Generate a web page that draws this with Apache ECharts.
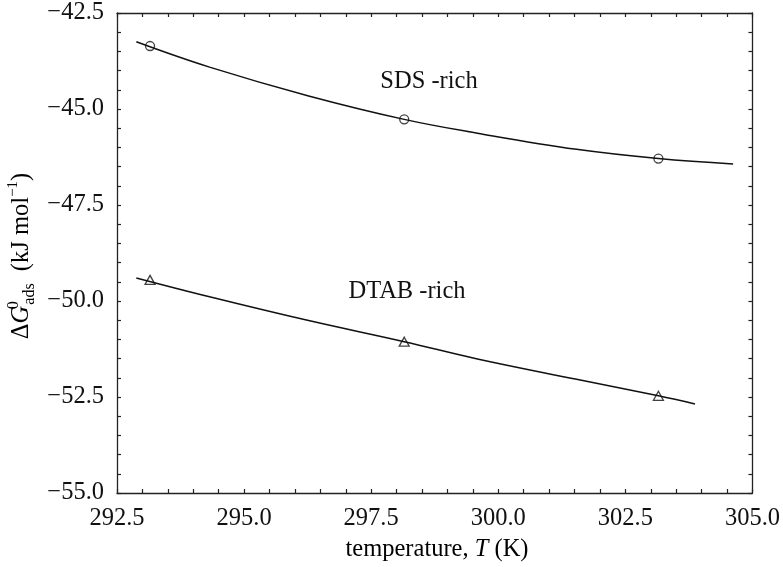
<!DOCTYPE html>
<html>
<head>
<meta charset="utf-8">
<script src="https://cdn.jsdelivr.net/npm/echarts@6/dist/echarts.min.js"></script>
<style>html,body{margin:0;padding:0;background:#fff;}#c{width:783px;height:567px;}</style>
</head>
<body>
<div id="c"></div>
<script>
// Measured points
var tempPts = [293.15, 298.15, 303.15];
var sdsG = [-43.36, -45.27, -46.29];
var dtabG = [-49.45, -51.06, -52.47];
// Fitted curves
var sdsFitT = [292.88, 294.32, 296.27, 298.15, 299.59, 301.54, 303.15, 304.62];
var sdsFitG = [-43.25, -43.91, -44.66, -45.27, -45.63, -46.05, -46.29, -46.43];
var dtabFitT = [292.88, 294.32, 296.27, 298.15, 299.59, 301.54, 303.15, 303.87];
var dtabFitG = [-49.40, -49.89, -50.51, -51.06, -51.51, -52.04, -52.47, -52.68];
var xTicks = [292.5, 295.0, 297.5, 300.0, 302.5, 305.0];
var yTicks = [-55.0, -52.5, -50.0, -47.5, -45.0, -42.5];
var seriesNames = ['SDS -rich', 'DTAB -rich'];

function zip(a, b) { return a.map(function (v, i) { return [v, b[i]]; }); }

var FONT = 'Liberation Serif';
var FS = 24.5;
var chart = echarts.init(document.getElementById('c'), null, {renderer: 'canvas'});

function axisCommon(showLabel, fmt) {
  return {
    axisLine: {show: true, onZero: false, lineStyle: {color: '#222', width: 1.3}},
    axisTick: {show: true, inside: true, length: 4, lineStyle: {color: '#222', width: 1.2}},
    minorTick: {show: true, splitNumber: 5, length: 4, lineStyle: {color: '#222', width: 1.2}},
    splitLine: {show: false},
    axisLabel: {show: showLabel, color: '#111', fontFamily: FONT, fontSize: FS, formatter: fmt}
  };
}
function fmtX(v) { return v.toFixed(1); }
function fmtY(v) { return (v < 0 ? '\u2212' : '') + Math.abs(v).toFixed(1); }

var xa = axisCommon(true, fmtX);
xa.axisLabel.margin = 13;
var xb = axisCommon(false, fmtX);
var ya = axisCommon(true, fmtY);
ya.axisLabel.margin = 13;
var yb = axisCommon(false, fmtY);

var option = {
  backgroundColor: '#fff',
  animation: false,
  grid: {left: 117, right: 26, top: 13, bottom: 74, containLabel: false},
  xAxis: [
    Object.assign({type: 'value', position: 'bottom', min: xTicks[0], max: xTicks[xTicks.length - 1], interval: 2.5}, xa),
    Object.assign({type: 'value', position: 'top', min: xTicks[0], max: xTicks[xTicks.length - 1], interval: 2.5}, xb)
  ],
  yAxis: [
    Object.assign({type: 'value', position: 'left', min: yTicks[0], max: yTicks[yTicks.length - 1], interval: 2.5}, ya),
    Object.assign({type: 'value', position: 'right', min: yTicks[0], max: yTicks[yTicks.length - 1], interval: 2.5}, yb)
  ],
  series: [
    {name: seriesNames[0] + ' fit', type: 'line', data: zip(sdsFitT, sdsFitG), smooth: 0.4, showSymbol: false,
     lineStyle: {color: '#111', width: 1.5}, z: 2},
    {name: seriesNames[1] + ' fit', type: 'line', data: zip(dtabFitT, dtabFitG), smooth: 0.4, showSymbol: false,
     lineStyle: {color: '#111', width: 1.5}, z: 2},
    {name: seriesNames[0], type: 'scatter', data: zip(tempPts, sdsG), symbol: 'circle', symbolSize: 9,
     itemStyle: {color: 'rgba(0,0,0,0)', borderColor: '#111', borderWidth: 1.3}, z: 3},
    {name: seriesNames[1], type: 'scatter', data: zip(tempPts, dtabG), symbol: 'triangle', symbolSize: [10, 9],
     itemStyle: {color: 'rgba(0,0,0,0)', borderColor: '#111', borderWidth: 1.3}, z: 3}
  ],
  graphic: [
    {type: 'text', x: 22, y: 256, rotation: Math.PI / 2,
     style: {
       text: '{m|\u0394}{i|G}{sup|0}{sub|ads}{m|  (kJ mol}{sup2|\u22121}{m|)}',
       align: 'center', verticalAlign: 'middle',
       rich: {
         m: {fontFamily: FONT, fontSize: FS, color: '#111', lineHeight: 32, verticalAlign: 'middle'},
         i: {fontFamily: FONT, fontSize: FS, fontStyle: 'italic', color: '#111', lineHeight: 32, verticalAlign: 'middle'},
         sup: {fontFamily: FONT, fontSize: 16, color: '#111', lineHeight: 15, verticalAlign: 'top', width: 1},
         sub: {fontFamily: FONT, fontSize: 16, color: '#111', lineHeight: 15, verticalAlign: 'bottom'},
         sup2: {fontFamily: FONT, fontSize: 15, color: '#111', lineHeight: 13, verticalAlign: 'top'}
       }
     }},
    {type: 'text', x: 437, y: 550,
     style: {
       text: '{m|temperature, }{i|T}{m| (K)}',
       align: 'center', verticalAlign: 'middle',
       rich: {
         m: {fontFamily: FONT, fontSize: FS, color: '#111'},
         i: {fontFamily: FONT, fontSize: FS, fontStyle: 'italic', color: '#111'}
       }
     }},
    {type: 'text', x: 429, y: 82,
     style: {text: seriesNames[0], fontFamily: FONT, fontSize: FS, fill: '#111', align: 'center', verticalAlign: 'middle'}},
    {type: 'text', x: 407, y: 292,
     style: {text: seriesNames[1], fontFamily: FONT, fontSize: FS, fill: '#111', align: 'center', verticalAlign: 'middle'}}
  ]
};
chart.setOption(option);
</script>
</body>
</html>
